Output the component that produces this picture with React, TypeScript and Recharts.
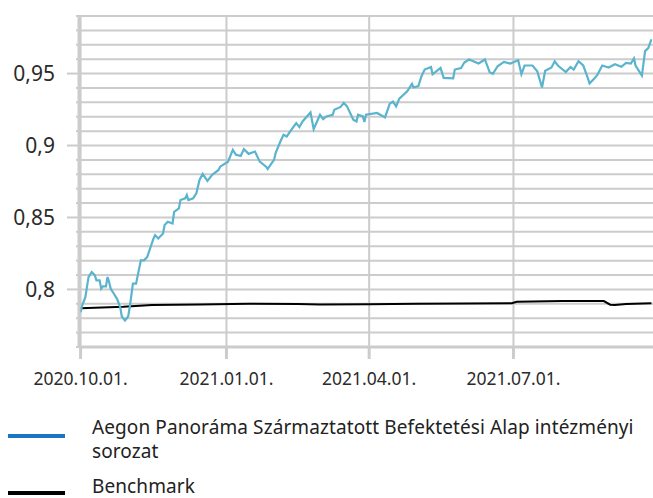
import { LineChart, Line, XAxis, YAxis, CartesianGrid } from 'recharts'

// Alap napi árfolyam (leolvasott pontok)
const fundDates = [
  '2020-10-01', '2020-10-02', '2020-10-04', '2020-10-05', '2020-10-06', '2020-10-08', '2020-10-10', '2020-10-11', '2020-10-13', '2020-10-14',
  '2020-10-15', '2020-10-17', '2020-10-18', '2020-10-19', '2020-10-20', '2020-10-22', '2020-10-24', '2020-10-26', '2020-10-27', '2020-10-29',
  '2020-10-31', '2020-11-01', '2020-11-03', '2020-11-05', '2020-11-08', '2020-11-10', '2020-11-12', '2020-11-16', '2020-11-17', '2020-11-19',
  '2020-11-22', '2020-11-23', '2020-11-25', '2020-11-28', '2020-11-29', '2020-12-02', '2020-12-03', '2020-12-06', '2020-12-07', '2020-12-08',
  '2020-12-11', '2020-12-13', '2020-12-14', '2020-12-15', '2020-12-17', '2020-12-20', '2020-12-23', '2020-12-27', '2020-12-28', '2021-01-02',
  '2021-01-05', '2021-01-07', '2021-01-10', '2021-01-12', '2021-01-15', '2021-01-19', '2021-01-22', '2021-01-26', '2021-01-27', '2021-01-28',
  '2021-01-31', '2021-02-01', '2021-02-04', '2021-02-06', '2021-02-08', '2021-02-11', '2021-02-14', '2021-02-16', '2021-02-18', '2021-02-23',
  '2021-02-25', '2021-03-01', '2021-03-03', '2021-03-05', '2021-03-09', '2021-03-10', '2021-03-14', '2021-03-16', '2021-03-18', '2021-03-20',
  '2021-03-22', '2021-03-24', '2021-03-25', '2021-03-28', '2021-03-29', '2021-03-30', '2021-04-06', '2021-04-11', '2021-04-14', '2021-04-16',
  '2021-04-18', '2021-04-20', '2021-04-25', '2021-04-28', '2021-04-29', '2021-05-02', '2021-05-04', '2021-05-06', '2021-05-10', '2021-05-11',
  '2021-05-16', '2021-05-18', '2021-05-24', '2021-05-25', '2021-05-29', '2021-05-31', '2021-06-03', '2021-06-09', '2021-06-13', '2021-06-16',
  '2021-06-18', '2021-06-21', '2021-06-25', '2021-06-29', '2021-07-04', '2021-07-06', '2021-07-08', '2021-07-13', '2021-07-16', '2021-07-19',
  '2021-07-21', '2021-07-25', '2021-07-27', '2021-07-29', '2021-08-03', '2021-08-06', '2021-08-08', '2021-08-11', '2021-08-14', '2021-08-16',
  '2021-08-18', '2021-08-21', '2021-08-23', '2021-08-26', '2021-08-30', '2021-09-03', '2021-09-07', '2021-09-10', '2021-09-13', '2021-09-15',
  '2021-09-16', '2021-09-20', '2021-09-22', '2021-09-24', '2021-09-26',
]

const fundValues = [
  0.7842, 0.7888, 0.7946, 0.8016, 0.8086, 0.8121, 0.8098, 0.8063, 0.8063, 0.8005,
  0.8021, 0.8021, 0.8086, 0.8051, 0.8005, 0.797, 0.7935, 0.7876, 0.7812, 0.7784,
  0.7812, 0.7876, 0.804, 0.804, 0.8202, 0.8202, 0.8225, 0.8354, 0.8377, 0.8354,
  0.8389, 0.8447, 0.847, 0.8458, 0.8539, 0.8563, 0.8621, 0.8633, 0.8656, 0.8621,
  0.8633, 0.8668, 0.8714, 0.8761, 0.8803, 0.8754, 0.8796, 0.883, 0.8853, 0.8888,
  0.897, 0.8935, 0.8928, 0.8975, 0.8942, 0.8958, 0.8888, 0.8853, 0.8837, 0.8853,
  0.89, 0.8947, 0.9028, 0.9075, 0.9063, 0.911, 0.9156, 0.9128, 0.9167, 0.923,
  0.9114, 0.9214, 0.9184, 0.9202, 0.9214, 0.9249, 0.9268, 0.9296, 0.9272, 0.9226,
  0.9179, 0.9167, 0.9214, 0.9202, 0.9163, 0.9214, 0.9226, 0.9195, 0.9291, 0.9305,
  0.9272, 0.9326, 0.9377, 0.9428, 0.9403, 0.9413, 0.9482, 0.9528, 0.9546, 0.9495,
  0.954, 0.947, 0.9467, 0.9528, 0.9539, 0.9577, 0.9598, 0.957, 0.9598, 0.9509,
  0.9498, 0.9551, 0.9581, 0.9569, 0.9592, 0.9496, 0.9556, 0.9556, 0.9516, 0.9403,
  0.9519, 0.9542, 0.9585, 0.9556, 0.9511, 0.9546, 0.9528, 0.9586, 0.9556, 0.9497,
  0.9432, 0.9465, 0.9493, 0.9556, 0.9542, 0.9565, 0.9547, 0.9574, 0.957, 0.9605,
  0.9556, 0.9486, 0.9656, 0.9677, 0.9738,
]

// Benchmark
const benchDates = [
  '2020-10-01', '2020-10-28', '2020-11-15', '2020-12-15', '2021-01-15', '2021-02-15',
  '2021-03-01', '2021-04-01', '2021-05-01', '2021-06-01', '2021-06-30', '2021-07-03',
  '2021-08-01', '2021-08-27', '2021-08-31', '2021-09-03', '2021-09-10', '2021-09-26',
]
const benchValues = [
  0.787, 0.7879, 0.7892, 0.7895, 0.79, 0.7899,
  0.7895, 0.7897, 0.79, 0.7902, 0.7904, 0.7914,
  0.792, 0.7919, 0.7894, 0.7892, 0.7899, 0.7904,
]

const xTickDates = ['2020-10-01', '2021-01-01', '2021-04-01', '2021-07-01']
const xDomainDates = ['2020-09-30', '2021-09-27']
const yTicks = [0.76, 0.77, 0.78, 0.79, 0.8, 0.81, 0.82, 0.83, 0.84, 0.85, 0.86, 0.87, 0.88, 0.89, 0.9, 0.91, 0.92, 0.93, 0.94, 0.95, 0.96, 0.97, 0.98, 0.99]
const yLabels = [0.8, 0.85, 0.9, 0.95]

const fundName = 'Aegon Panoráma Származtatott Befektetési Alap intézményi sorozat'
const benchName = 'Benchmark'

const GRID = '#cccccc'
const FONT = '"Noto Sans", sans-serif'

const fundData = fundDates.map((d, i) => ({ t: Date.parse(d), v: fundValues[i] }))
const benchData = benchDates.map((d, i) => ({ t: Date.parse(d), v: benchValues[i] }))

const fmtDate = (ts: number) => {
  const d = new Date(ts)
  const mm = String(d.getUTCMonth() + 1).padStart(2, '0')
  const dd = String(d.getUTCDate()).padStart(2, '0')
  return `${d.getUTCFullYear()}.${mm}.${dd}.`
}

const YTick = ({ x, y, payload }: any) => {
  const major = yLabels.some(l => Math.abs(l - payload.value) < 1e-6)
  return (
    <g>
      <line x1={x - (major ? 12 : 3)} x2={x} y1={y} y2={y} stroke={GRID} strokeWidth={2} />
      {major && (
        <text x={x - 24} y={y} dy="0.35em" textAnchor="end" fontSize={21} fill="#2b2b2b" fontFamily={FONT}>
          {String(payload.value).replace('.', ',')}
        </text>
      )}
    </g>
  )
}

const XTick = ({ x, y, payload }: any) => (
  <g>
    <line x1={x} x2={x} y1={y} y2={y + 12} stroke={GRID} strokeWidth={3} />
    <text x={x} y={y + 26} dy="0.71em" textAnchor="middle" fontSize={17.5} fill="#2b2b2b" fontFamily={FONT}>
      {fmtDate(payload.value)}
    </text>
  </g>
)

export default function App() {
  return (
    <div style={{ position: 'absolute', left: 0, top: 0, width: 653, height: 498, overflow: 'hidden', background: '#fff', fontFamily: FONT }}>
      <LineChart width={653} height={498} margin={{ top: 16, right: 0, left: 0, bottom: 101 }}>
        <CartesianGrid stroke={GRID} strokeWidth={2} syncWithTicks />
        <XAxis
          dataKey="t"
          type="number"
          domain={xDomainDates.map(d => Date.parse(d))}
          ticks={xTickDates.map(d => Date.parse(d))}
          interval={0}
          allowDataOverflow
          height={50}
          tickSize={0}
          tickMargin={0}
          tickLine={false}
          axisLine={{ stroke: GRID, strokeWidth: 3 }}
          tick={<XTick />}
        />
        <YAxis
          type="number"
          domain={[0.76, 0.99]}
          ticks={yTicks}
          interval={0}
          allowDataOverflow
          width={79}
          tickSize={0}
          tickMargin={0}
          tickLine={false}
          axisLine={{ stroke: GRID, strokeWidth: 3 }}
          tick={<YTick />}
        />
        <Line data={benchData} dataKey="v" type="linear" stroke="#000" strokeWidth={2} dot={false} isAnimationActive={false} />
        <Line data={fundData} dataKey="v" type="linear" stroke="#5ab4cd" strokeWidth={2.2} dot={false} isAnimationActive={false} />
      </LineChart>

      {/* jelmagyarázat */}
      <div style={{ position: 'absolute', left: 8, top: 434, width: 57, height: 4, background: '#1a76c2' }} />
      <div style={{ position: 'absolute', left: 92, top: 415, width: 555, fontSize: 19, letterSpacing: 0.1, lineHeight: '24px', color: '#222' }}>
        {fundName}
      </div>
      <div style={{ position: 'absolute', left: 8, top: 491, width: 57, height: 4, background: '#000' }} />
      <div style={{ position: 'absolute', left: 92, top: 476, fontSize: 19, letterSpacing: 0.1, lineHeight: '20px', color: '#222' }}>
        {benchName}
      </div>
    </div>
  )
}
